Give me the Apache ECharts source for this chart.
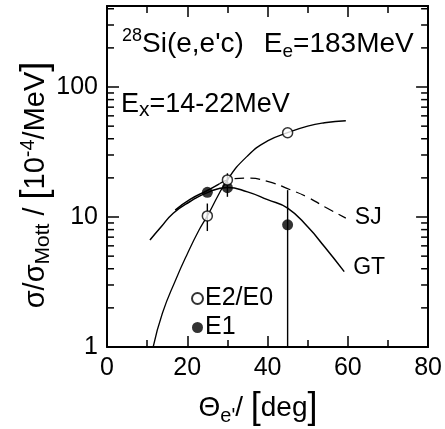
<!DOCTYPE html>
<html>
<head>
<meta charset="utf-8">
<script src="https://cdn.jsdelivr.net/npm/echarts@6/dist/echarts.min.js"></script>
<style>
  html, body { margin: 0; background: #fff; }
  #chart { width: 445px; height: 429px; }
</style>
</head>
<body>
<div id="chart"></div>
<script>
  // theory curves [theta, sigma]
  const e2Curve = [[11.5, 1.0], [13.8, 1.82], [17.1, 3.28], [20, 5.2], [22.9, 7.9], [25, 10.2], [30, 19.3],
    [35, 29.5], [40, 38.5], [45, 44.5], [50, 50.1], [54.2, 53.1], [59.5, 55]]
  const gtCurve = [[10.7, 6.65], [13.5, 8.4], [16.5, 10.7], [20.6, 13.1], [25, 15.4], [30, 16.9], [35, 15.6],
    [40, 13.6], [45, 11.7], [50, 8.4], [54.2, 5.9], [59.1, 3.8]]
  const sjSolid = [[17, 11.3], [20.6, 13.6], [25, 16.0], [28, 18.0]]
  const sjDashed = [[28, 18.0], [31, 19.6], [35, 19.9], [40, 18.8], [45.9, 16.1], [50, 14.2], [54.2, 12.0], [59.5, 9.8]]

  // measured points
  const pointTheta = [25, 30, 45]
  const e2Values = [10.2, 19.3, 44.5]
  const e1Values = [15.5, 16.8, 8.7]
  // error bars [theta, low, high]
  const e2Errors = [[25, 7.8, 12.7]]
  const e1Errors = [[30, 14.3, 21.7], [45, 1, 16.1]]

  // axes
  const xTicks = [0, 20, 40, 60, 80]
  const yLabels = [1, 10, 100]
  const yMinorTicks = [2, 3, 4, 5, 6, 7, 8, 9, 20, 30, 40, 50, 60, 70, 80, 90, 200, 300, 400]

  const FONT = 'Liberation Sans'
  const black = '#000'

  const errorBar = function (params, api) {
    const x = api.value(0)
    const lo = api.coord([x, api.value(1)])
    const hi = api.coord([x, api.value(2)])
    return {
      type: 'line',
      shape: { x1: lo[0], y1: lo[1], x2: hi[0], y2: hi[1] },
      style: { stroke: black, lineWidth: 1.4 }
    }
  }

  const minorTick = function (params, api) {
    const l = api.coord([xTicks[0], api.value(1)])
    const r = api.coord([xTicks[xTicks.length - 1], api.value(1)])
    return {
      type: 'group',
      children: [
        { type: 'line', shape: { x1: l[0], y1: l[1], x2: l[0] + 7, y2: l[1] }, style: { stroke: black, lineWidth: 1.5 } },
        { type: 'line', shape: { x1: r[0], y1: r[1], x2: r[0] - 7, y2: r[1] }, style: { stroke: black, lineWidth: 1.5 } }
      ]
    }
  }

  const xAxisBase = {
    type: 'value', min: 0, max: 80, interval: 20,
    axisLine: { onZero: false, lineStyle: { color: black, width: 2 } },
    axisTick: { inside: true, length: 11, lineStyle: { color: black, width: 1.5 } },
    minorTick: { show: true, splitNumber: 2, length: 7, lineStyle: { color: black, width: 1.5 } },
    splitLine: { show: false }
  }
  const yAxisBase = {
    type: 'log', logBase: 10, min: 1, max: 420,
    axisLine: { onZero: false, lineStyle: { color: black, width: 2 } },
    axisTick: { inside: true, length: 12, lineStyle: { color: black, width: 1.5 } },
    splitLine: { show: false }
  }

  const chart = echarts.init(document.getElementById('chart'))
  chart.setOption({
    backgroundColor: '#fff',
    animation: false,
    grid: { left: 107, right: 16, top: 6, bottom: 82 },
    xAxis: [
      Object.assign({}, xAxisBase, {
        position: 'bottom',
        axisLabel: { color: black, fontSize: 25, fontFamily: FONT, margin: 9 }
      }),
      Object.assign({}, xAxisBase, { position: 'top', axisLabel: { show: false } })
    ],
    yAxis: [
      Object.assign({}, yAxisBase, {
        position: 'left',
        axisLabel: {
          color: black, fontSize: 25, fontFamily: FONT, margin: 9,
          formatter: v => yLabels.indexOf(Math.round(v)) >= 0 && Math.abs(v - Math.round(v)) < 1e-6 ? String(Math.round(v)) : ''
        }
      }),
      Object.assign({}, yAxisBase, { position: 'right', axisLabel: { show: false } })
    ],
    legend: {
      orient: 'vertical', left: 186, top: 281, itemGap: 4,
      itemWidth: 11, itemHeight: 11,
      data: [{ name: 'E2/E0', icon: 'circle' }, { name: 'E1', icon: 'circle' }],
      textStyle: { color: black, fontSize: 25, fontFamily: FONT, padding: [0, 0, 0, -3] }
    },
    series: [
      {
        type: 'line', data: e2Curve, smooth: true, symbol: 'none', silent: true,
        lineStyle: { color: black, width: 1.3 }
      },
      {
        type: 'line', name: 'GT', data: gtCurve, smooth: true, symbol: 'none', silent: true,
        lineStyle: { color: black, width: 1.5 },
        endLabel: { show: true, formatter: 'GT', color: black, fontSize: 23, fontFamily: FONT, distance: 9, offset: [0, -4] }
      },
      {
        type: 'line', data: sjSolid, smooth: true, symbol: 'none', silent: true,
        lineStyle: { color: black, width: 1.5 }
      },
      {
        type: 'line', name: 'SJ', data: sjDashed, smooth: true, symbol: 'none', silent: true,
        lineStyle: { color: black, width: 1.3, type: [10, 6] },
        endLabel: { show: true, formatter: 'SJ', color: black, fontSize: 23, fontFamily: FONT, distance: 9 }
      },
      {
        type: 'custom', data: e2Errors.concat(e1Errors), renderItem: errorBar, clip: true, silent: true,
        encode: { x: 0, y: [1, 2] }
      },
      {
        type: 'custom', data: yMinorTicks.map(v => [0, v]), renderItem: minorTick, silent: true,
        encode: { x: 0, y: 1 }
      },
      {
        type: 'scatter', name: 'E1', data: pointTheta.map((t, i) => [t, e1Values[i]]),
        symbol: 'circle', symbolSize: 11, z: 5,
        itemStyle: { color: black }
      },
      {
        type: 'scatter', name: 'E2/E0', data: pointTheta.map((t, i) => [t, e2Values[i]]),
        symbol: 'circle', symbolSize: 10, z: 6,
        itemStyle: { color: '#fff', borderColor: black, borderWidth: 1.5 }
      }
    ],
    graphic: [
      {
        type: 'text', left: 122, top: 27,
        style: {
          text: '{p|28}{m|Si(e,e\'c)}{g| }{m|E}{s|e}{m|=183MeV}',
          fill: black,
          rich: {
            p: { fontSize: 18, fontFamily: FONT, verticalAlign: 'top', lineHeight: 16 },
            m: { fontSize: 28, fontFamily: FONT, lineHeight: 34 },
            g: { fontSize: 28, width: 20 },
            s: { fontSize: 19, fontFamily: FONT, verticalAlign: 'bottom', lineHeight: 18 }
          }
        }
      },
      {
        type: 'text', left: 121, top: 91,
        style: {
          text: '{m|E}{s|x}{m|=14-22MeV}',
          fill: black,
          rich: {
            m: { fontSize: 27, fontFamily: FONT, lineHeight: 32 },
            s: { fontSize: 21, fontFamily: FONT, verticalAlign: 'bottom', lineHeight: 20 }
          }
        }
      },
      {
        type: 'text', x: 258, y: 408,
        style: {
          text: '{m|\u0398}{s|e\'}{m|/ }{b|[}{m|deg}{b|]}',
          fill: black, align: 'center', verticalAlign: 'middle',
          rich: {
            m: { fontSize: 28, fontFamily: FONT, lineHeight: 36 },
            s: { fontSize: 20, fontFamily: FONT, verticalAlign: 'bottom', lineHeight: 20 },
            b: { fontSize: 36, fontFamily: FONT, lineHeight: 36 }
          }
        }
      },
      {
        type: 'text', x: 36, y: 185, rotation: Math.PI / 2,
        style: {
          text: '{m|\u03c3/\u03c3}{s|Mott}{m| / }{b|[}{m|10}{p|-4}{m|/MeV}{b|]}',
          fill: black, align: 'center', verticalAlign: 'middle',
          rich: {
            m: { fontSize: 29, fontFamily: FONT, lineHeight: 36 },
            s: { fontSize: 21, fontFamily: FONT, verticalAlign: 'bottom', lineHeight: 20 },
            p: { fontSize: 20, fontFamily: FONT, verticalAlign: 'top', lineHeight: 18 },
            b: { fontSize: 36, fontFamily: FONT, lineHeight: 36 }
          }
        }
      }
    ]
  })
</script>
</body>
</html>
